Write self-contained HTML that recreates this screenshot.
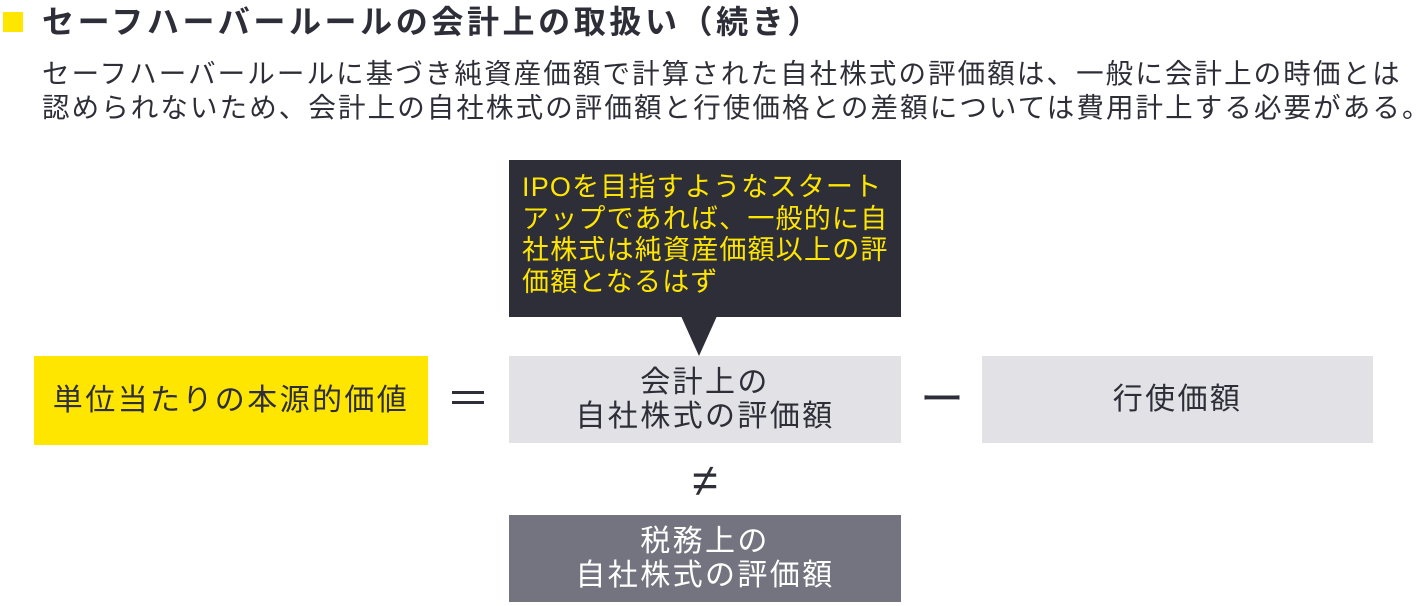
<!DOCTYPE html>
<html><head><meta charset="utf-8"><style>
*{margin:0;padding:0}
body{width:1422px;height:606px;background:#fff;position:relative;overflow:hidden;font-family:"Liberation Sans","Noto Sans CJK JP",sans-serif;color:#2e2e38}
.a{position:absolute}
.box{position:absolute;display:flex;align-items:center;justify-content:center;text-align:center;font-size:30px;letter-spacing:2.4px;line-height:34px}
</style></head><body>
<div class="a" style="left:3px;top:12px;width:20px;height:20px;background:#ffe600"></div>
<div class="a" style="left:42px;top:2px;font-size:32px;letter-spacing:3.6px;font-weight:bold;line-height:40px;white-space:nowrap">セーフハーバールールの会計上の取扱い（続き）</div>
<div class="a" style="left:42px;top:57px;font-size:27.5px;letter-spacing:2.1px;line-height:34px;white-space:nowrap">セーフハーバールールに基づき純資産価額で計算された自社株式の評価額は、一般に会計上の時価とは<br>認められないため、会計上の自社株式の評価額と行使価格との差額については費用計上する必要がある。</div>
<div class="a" style="left:509px;top:160px;width:392px;height:157px;background:#2e2e38"></div>
<div class="a" style="left:522px;top:172px;width:375px;font-size:27px;letter-spacing:1.2px;line-height:31.5px;color:#ffe600;white-space:nowrap">IPOを目指すようなスタート<br>アップであれば、一般的に自<br>社株式は純資産価額以上の評<br>価額となるはず</div>
<div class="a" style="left:681px;top:316px;width:0;height:0;border-left:18px solid transparent;border-right:18px solid transparent;border-top:40px solid #2e2e38"></div>
<div class="box" style="left:34px;top:356px;width:394px;height:89px;background:#ffe600">単位当たりの本源的価値</div>
<div class="box" style="left:440px;top:356px;width:56px;height:87px;font-size:44px;letter-spacing:0">＝</div>
<div class="box" style="left:912px;top:356px;width:60px;height:87px;font-size:44px;letter-spacing:0">ー</div>
<div class="box" style="left:509px;top:356px;width:392px;height:87px;background:#e1e1e6">会計上の<br>自社株式の評価額</div>
<div class="box" style="left:982px;top:356px;width:391px;height:87px;background:#e1e1e6">行使価額</div>
<div class="box" style="left:509px;top:455px;width:392px;height:50px;font-size:46px;letter-spacing:0">≠</div>
<div class="box" style="left:509px;top:515px;width:392px;height:87px;background:#747480;color:#fff">税務上の<br>自社株式の評価額</div>
</body></html>
